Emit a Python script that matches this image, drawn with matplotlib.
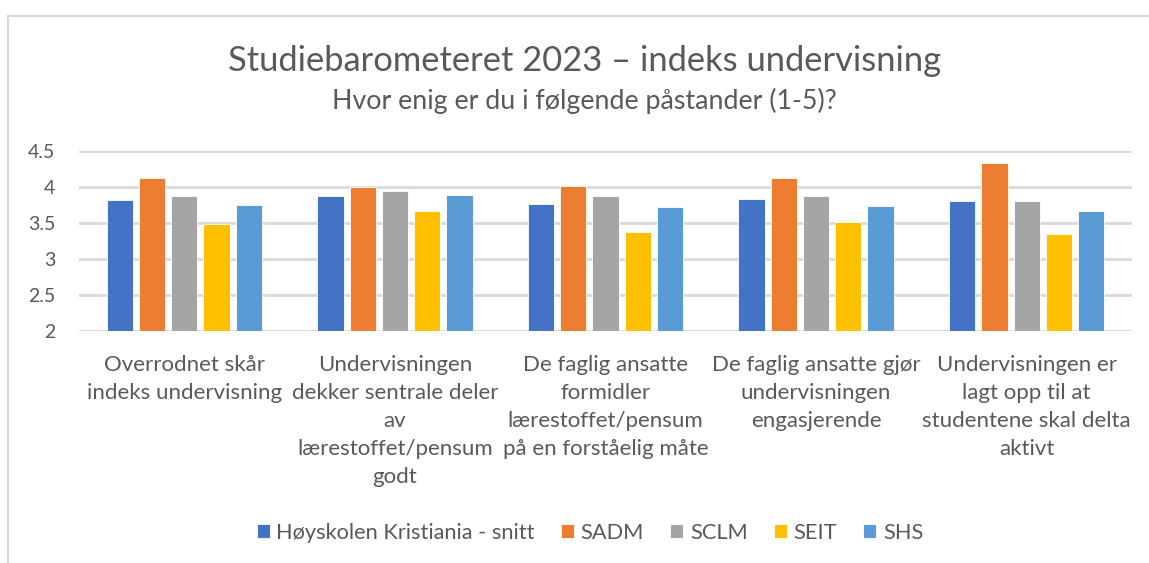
import matplotlib
matplotlib.use("Agg")
import matplotlib.pyplot as plt
import numpy as np
from matplotlib.patches import Rectangle

categories = [
    "Overrodnet skår\nindeks undervisning",
    "Undervisningen\ndekker sentrale deler\nav\nlærestoffet/pensum\ngodt",
    "De faglig ansatte\nformidler\nlærestoffet/pensum\npå en forståelig måte",
    "De faglig ansatte gjør\nundervisningen\nengasjerende",
    "Undervisningen er\nlagt opp til at\nstudentene skal delta\naktivt",
]
series_names = ["Høyskolen Kristiania - snitt", "SADM", "SCLM", "SEIT", "SHS"]
hk_snitt = [3.82, 3.88, 3.77, 3.84, 3.81]
sadm = [4.12, 4.00, 4.02, 4.12, 4.33]
sclm = [3.87, 3.94, 3.88, 3.87, 3.80]
seit = [3.48, 3.66, 3.38, 3.52, 3.35]
shs = [3.75, 3.89, 3.72, 3.73, 3.67]
yticks = [2, 2.5, 3, 3.5, 4, 4.5]
ytick_labels = ["2", "2.5", "3", "3.5", "4", "4.5"]

colors = ["#4472C4", "#ED7D31", "#A5A5A5", "#FFC000", "#5B9BD5"]
text_color = "#595959"
grid_color = "#D9D9D9"

plt.rcParams["font.family"] = ["Lato", "DejaVu Sans"]

W, H = 1149, 563
fig = plt.figure(figsize=(W / 100, H / 100), dpi=100)
fig.patch.set_facecolor("white")

# chart border (cropped on the right and bottom)
fig.patches.append(Rectangle((8 / W, -0.1), 1.2, 1.1 - 16 / H, transform=fig.transFigure,
                             fill=False, edgecolor=grid_color, linewidth=1.5))

ax = fig.add_axes([79 / W, 1 - 331 / H, (1132 - 79) / W, (331 - 151) / H])

x = np.arange(len(categories))
pitch = 0.153
width = 0.125
all_series = [hk_snitt, sadm, sclm, seit, shs]
for i, (vals, name) in enumerate(zip(all_series, series_names)):
    ax.bar(x + (i - 2) * pitch, vals, width, color=colors[i], label=name,
           edgecolor="white", linewidth=0.6, zorder=3)

ax.set_xlim(-0.5, len(categories) - 0.5)
ax.set_ylim(2, 4.5)
ax.set_yticks(yticks)
ax.set_yticklabels(ytick_labels)
ax.yaxis.grid(True, color=grid_color, linewidth=2, zorder=0)
ax.set_axisbelow(True)
for s in ax.spines.values():
    s.set_visible(False)
ax.tick_params(axis="y", length=0, pad=17, labelsize=14, labelcolor=text_color)
ax.set_xticks(x)
ax.set_xticklabels(categories, fontsize=16, color=text_color, linespacing=1.5)
ax.tick_params(axis="x", length=0, pad=17)

fig.text(585 / W, 1 - 61 / H, "Studiebarometeret 2023 – indeks undervisning",
         ha="center", va="center", fontsize=24.8, color=text_color)
fig.text(584 / W, 1 - 101 / H, "Hvor enig er du i følgende påstander (1-5)?",
         ha="center", va="center", fontsize=19.3, color=text_color)

fig.legend(loc="center", bbox_to_anchor=(590 / W, 1 - 533 / H), ncol=5, frameon=False,
           fontsize=15.7, labelcolor=text_color, handlelength=0.6, handleheight=0.6,
           handletextpad=0.3, columnspacing=1.2)

fig.savefig("out.png", dpi=100)
